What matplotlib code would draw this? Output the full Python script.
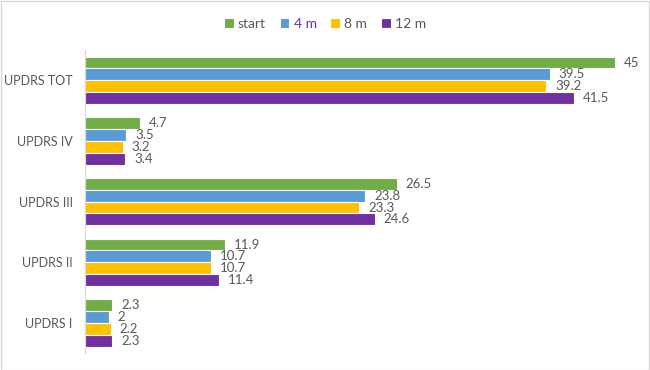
import matplotlib
matplotlib.use("Agg")
import matplotlib.pyplot as plt
import numpy as np

plt.rcParams["font.family"] = ["Lato", "DejaVu Sans"]

categories = ["UPDRS I", "UPDRS II", "UPDRS III", "UPDRS IV", "UPDRS TOT"]
series_names = ["start", "4 m", "8 m", "12 m"]
start = [2.3, 11.9, 26.5, 4.7, 45]
m4 = [2, 10.7, 23.8, 3.5, 39.5]
m8 = [2.2, 10.7, 23.3, 3.2, 39.2]
m12 = [2.3, 11.4, 24.6, 3.4, 41.5]
series = [start, m4, m8, m12]
colors = ["#70AD47", "#5B9BD5", "#FFC000", "#7030A0"]

fig = plt.figure(figsize=(6.5, 3.7), dpi=100)
ax = fig.add_axes([0.131, 0.045, 0.869, 0.82])

y = np.arange(len(categories))
bh = 0.195
for i, (vals, col) in enumerate(zip(series, colors)):
    offs = (1.5 - i) * bh
    ax.barh(y + offs, vals, height=bh, color=col, edgecolor="white",
            linewidth=0.8, label=series_names[i])
    for yy, v in zip(y + offs, vals):
        ax.text(v + 0.75, yy, f"{v:g}", va="center", ha="left",
                fontsize=9.5, color="#595959")

ax.set_xlim(0, 48)
ax.set_ylim(-0.5, len(categories) - 0.5)
ax.set_yticks(y)
ax.set_yticklabels(categories, fontsize=9, color="#595959")
ax.tick_params(axis="y", length=0, pad=9)
ax.set_xticks([])
for s in ["top", "right", "bottom"]:
    ax.spines[s].set_visible(False)
ax.spines["left"].set_color("#D9D9D9")

leg = fig.legend(loc="upper center", bbox_to_anchor=(0.5, 0.985), ncol=4,
                 frameon=False, fontsize=10, handlelength=0.7, handleheight=0.7,
                 handletextpad=0.3, columnspacing=1.0)
for t in leg.get_texts():
    t.set_color("#595959")
leg.get_texts()[1].set_color("#7030A0")

fig.patches.append(plt.Rectangle((0.001, 0.001), 0.997, 0.997, transform=fig.transFigure,
                                 fill=False, edgecolor="#D9D9D9", linewidth=1))

fig.savefig("out.png", dpi=100)
